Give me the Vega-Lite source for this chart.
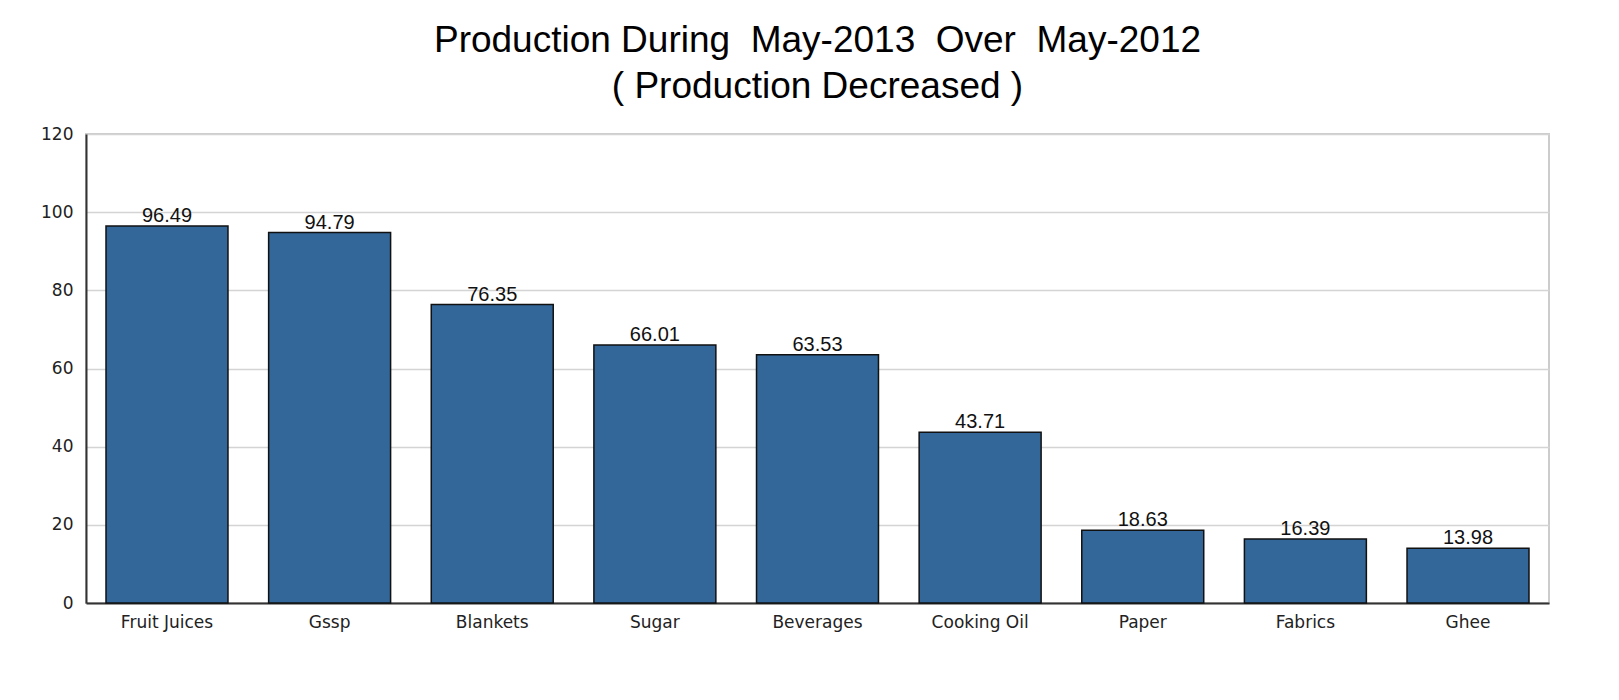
{
  "$schema": "https://vega.github.io/schema/vega-lite/v6.json",
  "autosize": "none",
  "width": 1463,
  "height": 469,
  "padding": {"left": 86, "top": 134, "right": 70, "bottom": 97},
  "background": "white",
  "title": {
    "text": ["Production During \u00a0May-2013 \u00a0Over \u00a0May-2012", "( Production Decreased )"],
    "font": "Liberation Sans",
    "fontSize": 37,
    "fontWeight": "normal",
    "color": "#000000",
    "lineHeight": 46,
    "anchor": "middle",
    "frame": "group",
    "offset": 19
  },
  "data": {
    "values": [
      {"category": "Fruit Juices", "value": 96.49},
      {"category": "Gssp", "value": 94.79},
      {"category": "Blankets", "value": 76.35},
      {"category": "Sugar", "value": 66.01},
      {"category": "Beverages", "value": 63.53},
      {"category": "Cooking Oil", "value": 43.71},
      {"category": "Paper", "value": 18.63},
      {"category": "Fabrics", "value": 16.39},
      {"category": "Ghee", "value": 13.98}
    ]
  },
  "encoding": {
    "x": {
      "field": "category",
      "type": "nominal",
      "sort": null,
      "scale": {"paddingInner": 0.25, "paddingOuter": 0.123},
      "axis": {
        "title": null,
        "labelAngle": 0,
        "labelFont": "DejaVu Sans",
        "labelFontSize": 17,
        "labelColor": "#222222",
        "labelPadding": 11,
        "ticks": false,
        "tickSize": 0,
        "domainColor": "#333333",
        "domainWidth": 2,
        "grid": false
      }
    },
    "y": {
      "field": "value",
      "type": "quantitative",
      "scale": {"domain": [0, 120], "nice": false},
      "axis": {
        "title": null,
        "values": [0, 20, 40, 60, 80, 100, 120],
        "labelFont": "DejaVu Sans",
        "labelFontSize": 17,
        "labelColor": "#222222",
        "labelPadding": 13,
        "ticks": false,
        "tickSize": 0,
        "domainColor": "#333333",
        "domainWidth": 2,
        "grid": true,
        "gridColor": "#d4d4d4",
        "gridWidth": 1.5
      }
    }
  },
  "layer": [
    {
      "mark": {"type": "bar", "color": "#336699", "stroke": "#111111", "strokeWidth": 1.5}
    },
    {
      "mark": {"type": "text", "baseline": "alphabetic", "dy": -4, "font": "Liberation Sans", "fontSize": 20, "color": "#111111"},
      "encoding": {"text": {"field": "value", "type": "quantitative", "format": ".2f"}}
    }
  ],
  "config": {
    "view": {"stroke": "#cccccc", "strokeWidth": 2}
  }
}
